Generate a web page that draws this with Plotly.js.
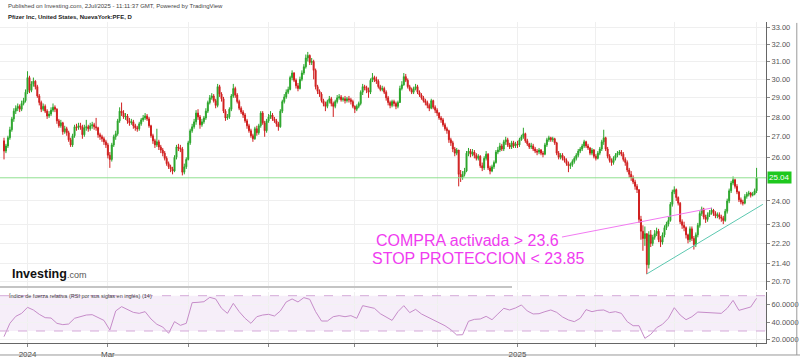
<!DOCTYPE html>
<html>
<head>
<meta charset="utf-8">
<script src="https://cdn.plot.ly/plotly-3.0.1.min.js"></script>
<style>html,body{margin:0;padding:0;background:#fff}#chart{width:800px;height:358px}</style>
</head>
<body>
<div id="chart"></div>
<script>
// ---- data (daily PFE candles, mid-Dec 2023 .. 1 Jul 2025) ----
var firstOpen = 26.80;
var closes = [
26.30,26.55,26.95,27.35,27.90,28.30,28.45,28.55,28.40,28.70,
28.85,29.30,30.10,29.40,29.75,29.90,29.60,29.10,28.75,28.40,
28.55,28.30,28.05,28.15,28.35,28.50,28.40,27.80,27.55,27.70,
27.25,27.40,27.20,26.85,26.60,27.05,27.50,27.45,27.55,27.50,
27.10,27.45,27.50,27.40,27.55,27.60,27.50,27.45,27.10,27.00,
26.90,26.75,26.60,26.10,25.90,26.60,27.00,27.15,27.80,28.30,
28.20,28.00,28.05,27.80,27.70,27.75,27.55,27.45,27.40,27.65,
27.85,27.95,28.05,27.90,27.55,27.05,26.80,26.60,26.75,26.50,
26.35,26.20,25.95,25.70,25.55,25.45,25.35,26.00,26.50,26.45,
26.40,25.30,25.55,25.90,26.70,27.30,27.50,27.75,28.20,28.00,
27.60,27.75,27.95,28.30,28.75,29.00,29.10,28.85,28.60,29.60,
29.20,28.95,28.30,27.95,28.00,28.40,29.10,29.50,29.15,28.80,
28.45,28.25,28.10,27.80,27.55,27.30,27.05,26.90,27.40,27.20,
27.55,28.20,27.70,27.30,27.80,28.00,28.10,27.90,27.80,27.65,
27.50,28.30,28.80,29.05,29.30,29.45,30.10,30.35,29.95,29.65,
29.50,30.00,30.35,30.70,31.20,31.35,30.95,31.00,30.50,29.60,
29.35,29.20,28.85,28.70,28.55,28.80,28.95,28.70,28.55,28.80,
29.00,29.05,28.90,28.95,28.85,28.95,28.90,28.80,28.55,28.40,
28.55,28.70,29.30,29.60,29.55,29.40,29.30,29.95,30.10,30.00,
29.90,29.60,29.45,29.50,29.30,29.00,28.75,28.60,28.80,28.70,
28.55,28.75,29.50,29.70,30.15,29.95,29.60,29.45,29.30,29.50,
29.60,29.30,29.15,29.00,28.85,28.75,28.60,28.45,28.85,28.50,
28.35,28.20,27.95,27.85,27.60,27.40,27.30,26.85,26.70,26.40,
26.20,26.35,25.20,25.05,25.20,25.35,26.20,26.30,26.15,26.25,
26.10,25.95,26.05,25.60,25.50,25.95,26.15,25.50,25.35,25.55,
25.75,26.25,26.35,26.55,26.40,26.75,26.85,26.60,26.50,26.70,
26.55,26.65,26.60,26.85,27.00,27.15,26.80,26.65,26.50,26.55,
26.40,26.30,26.25,26.35,26.20,26.15,26.60,26.85,26.95,26.85,
26.90,26.70,26.20,26.00,26.10,25.95,25.85,25.70,25.60,25.65,
25.80,25.95,26.10,26.30,26.40,26.55,26.75,26.55,26.45,26.20,
26.35,26.05,25.95,26.20,26.40,26.75,26.95,26.40,26.05,25.85,
25.75,25.95,26.10,26.20,26.25,26.15,25.90,25.75,25.40,25.20,
25.05,24.85,24.65,24.50,23.20,22.70,22.40,22.60,21.35,22.55,
22.20,22.45,22.60,22.70,22.35,22.25,22.55,22.85,23.00,23.15,
23.85,24.40,24.50,24.15,23.90,23.10,22.95,22.85,22.55,22.35,
22.80,22.40,22.15,22.55,22.95,23.45,23.65,23.30,23.20,23.40,
23.50,23.60,23.45,23.35,23.40,23.30,23.25,23.15,23.55,24.00,
24.45,24.80,24.95,24.65,24.40,24.05,23.95,23.90,24.20,24.30,
24.35,24.25,24.30,24.45,25.04];
var highs = [
26.95,26.65,27.05,27.50,28.00,28.45,28.60,28.70,28.65,28.85,
29.00,29.45,30.45,30.20,29.90,30.10,29.95,29.70,29.20,28.85,
28.70,28.65,28.40,28.30,28.50,28.70,28.60,28.45,27.90,27.85,
27.75,27.55,27.50,27.30,26.95,27.15,27.60,27.65,27.70,27.70,
27.60,27.60,27.85,27.60,27.70,27.75,27.70,27.95,27.50,27.20,
27.10,27.00,26.85,26.70,26.25,26.70,27.10,27.30,27.90,28.50,
28.75,28.35,28.20,28.15,27.95,27.90,27.85,27.65,27.55,27.75,
27.95,28.10,28.20,28.15,28.00,27.60,27.15,26.90,27.40,26.85,
26.60,26.45,26.30,26.05,25.80,25.65,25.55,26.10,26.60,26.65,
26.60,26.50,25.70,26.00,26.80,27.40,27.65,27.90,28.35,28.40,
28.10,27.90,28.05,28.45,28.85,29.15,29.25,29.20,28.95,29.75,
29.70,29.30,29.05,28.40,28.15,28.50,29.20,29.75,29.60,29.25,
28.90,28.55,28.35,28.20,27.90,27.65,27.40,27.15,27.50,27.55,
27.65,28.30,28.30,27.80,27.90,28.15,28.30,28.20,28.00,27.90,
27.75,28.40,28.90,29.20,29.45,29.60,30.20,30.50,30.40,30.05,
29.80,30.15,30.50,30.85,31.40,31.55,31.40,31.20,31.10,30.60,
29.70,29.45,29.30,28.95,28.80,28.90,29.10,29.05,28.80,28.90,
29.15,29.20,29.15,29.05,29.10,29.05,29.10,29.00,28.90,28.60,
28.65,28.80,29.40,29.75,29.70,29.65,29.55,30.05,30.35,30.20,
30.15,30.00,29.70,29.65,29.60,29.40,29.10,28.85,28.90,28.90,
28.80,28.85,29.65,29.90,30.35,30.30,30.05,29.70,29.55,29.60,
29.75,29.70,29.40,29.25,29.10,28.95,28.85,28.70,28.95,28.90,
28.60,28.45,28.25,28.05,27.95,27.70,27.50,27.35,26.95,26.80,
26.50,26.45,26.35,25.40,25.35,25.50,26.30,26.45,26.40,26.40,
26.35,26.20,26.15,26.10,25.75,26.05,26.30,26.20,25.60,25.65,
25.85,26.35,26.50,26.70,26.65,26.85,27.00,26.95,26.70,26.80,
26.80,26.75,26.80,26.95,27.10,27.45,27.20,26.90,26.70,26.70,
26.65,26.50,26.40,26.45,26.40,26.30,26.70,26.95,27.05,27.00,
27.00,26.95,26.75,26.30,26.20,26.20,26.05,25.95,25.80,25.75,
25.90,26.05,26.20,26.40,26.50,26.65,26.85,26.80,26.65,26.50,
26.45,26.40,26.15,26.30,26.50,26.85,27.35,27.00,26.50,26.15,
25.95,26.05,26.20,26.30,26.35,26.35,26.25,26.00,25.85,25.50,
25.35,25.15,24.95,24.75,23.90,23.35,22.95,22.90,22.30,22.70,
22.75,22.55,22.75,22.85,22.80,22.50,22.65,22.95,23.10,23.30,
23.95,24.50,24.65,24.55,24.20,23.95,23.20,23.10,22.90,22.60,
22.90,22.90,22.50,22.65,23.05,23.55,23.75,23.70,23.40,23.50,
23.60,23.70,23.65,23.55,23.50,23.50,23.40,23.35,23.65,24.10,
24.55,24.90,25.10,25.00,24.75,24.45,24.15,24.05,24.30,24.40,
24.45,24.40,24.40,24.55,25.50];
var lows = [
25.90,26.20,26.45,26.85,27.25,27.75,28.15,28.30,28.25,28.30,
28.60,28.75,29.20,29.25,29.30,29.60,29.45,29.00,28.60,28.25,
28.30,28.20,27.90,27.95,28.05,28.25,28.25,27.65,27.45,27.45,
27.10,27.15,27.05,26.75,26.50,26.50,26.95,27.30,27.35,27.35,
26.90,27.00,27.30,27.25,27.30,27.40,27.35,27.30,26.95,26.85,
26.75,26.60,26.45,25.95,25.50,25.80,26.50,26.85,27.05,27.70,
28.05,27.90,27.85,27.65,27.55,27.60,27.40,27.30,27.25,27.30,
27.55,27.75,27.85,27.80,27.45,26.95,26.65,26.45,26.50,26.35,
26.20,26.05,25.85,25.60,25.45,25.30,25.20,25.30,25.90,26.30,
26.25,25.15,25.20,25.45,25.85,26.60,27.20,27.40,27.60,27.85,
27.40,27.50,27.65,27.85,28.20,28.65,28.90,28.75,28.45,28.50,
29.05,28.80,28.20,27.80,27.85,27.90,28.30,29.00,29.00,28.70,
28.35,28.15,27.95,27.70,27.40,27.20,26.95,26.75,26.85,27.05,
27.10,27.45,27.60,27.00,27.20,27.70,27.90,27.80,27.70,27.50,
27.30,27.45,28.20,28.70,28.95,29.20,29.40,29.95,29.85,29.50,
29.35,29.45,29.90,30.25,30.60,31.00,30.80,30.80,30.00,29.45,
29.20,29.05,28.75,28.55,28.30,28.45,28.70,28.55,28.00,28.45,
28.70,28.90,28.80,28.80,28.70,28.75,28.75,28.65,28.45,28.20,
28.30,28.45,28.60,29.15,29.40,29.25,29.00,29.20,29.85,29.85,
29.75,29.50,29.35,29.35,29.20,28.85,28.60,28.45,28.50,28.55,
28.40,28.45,29.30,29.40,29.65,29.85,29.50,29.35,29.20,29.20,
29.40,29.20,29.05,28.90,28.75,28.60,28.45,28.30,28.40,28.40,
28.20,28.05,27.85,27.70,27.50,27.30,27.15,26.70,26.55,26.25,
26.05,26.10,24.65,24.85,24.95,25.10,25.30,26.05,26.00,26.05,
25.95,25.85,25.85,25.50,25.35,25.40,25.85,25.40,25.20,25.30,
25.45,25.70,26.15,26.25,26.30,26.30,26.60,26.50,26.40,26.40,
26.45,26.45,26.45,26.50,26.80,26.90,26.70,26.55,26.40,26.40,
26.30,26.20,26.10,26.15,26.10,26.00,26.10,26.50,26.75,26.75,
26.75,26.60,26.10,25.90,25.90,25.85,25.75,25.60,25.30,25.45,
25.55,25.70,25.85,26.00,26.20,26.30,26.45,26.45,26.35,26.10,
26.10,25.95,25.85,25.90,26.10,26.30,26.60,26.30,25.95,25.75,
25.60,25.65,25.85,26.00,26.10,26.05,25.80,25.60,25.30,25.05,
24.90,24.75,24.50,24.35,23.05,22.35,21.90,22.10,20.98,21.20,
22.05,22.10,22.35,22.50,22.25,22.05,22.15,22.45,22.75,22.90,
23.10,23.75,24.30,24.00,23.80,23.00,22.80,22.70,22.40,22.20,
22.25,22.30,21.95,22.05,22.45,22.85,23.35,23.20,23.05,23.10,
23.30,23.40,23.35,23.25,23.25,23.20,23.10,23.00,23.10,23.45,
23.90,24.35,24.70,24.55,24.30,23.95,23.85,23.80,23.85,24.10,
24.20,24.15,24.20,24.25,24.35];
var opens = [firstOpen].concat(closes.slice(0, -1));   // open taken as previous close
var idx = closes.map(function (_, i) { return i; });

var rsiStep = 3;
var rsi = [
23.6,38.7,46.6,50.0,56.8,53.8,48.9,45.1,44.7,38.7,
37.2,37.9,44.4,46.2,48.1,48.5,45.1,42.0,31.1,52.7,
57.6,54.5,51.1,50.0,51.9,43.6,37.6,34.5,27.4,40.6,
36.4,38.7,62.1,62.5,63.2,68.1,66.3,55.7,50.0,61.3,
51.9,44.4,38.7,46.2,48.1,48.9,47.0,52.7,62.9,66.3,
62.9,67.8,65.9,51.9,41.3,41.3,46.2,47.4,46.2,47.4,
44.4,58.7,57.6,55.7,49.6,46.2,42.0,51.9,58.7,50.8,
54.5,49.3,45.9,42.5,39.1,36.0,31.5,25.5,25.8,41.0,
43.2,43.6,46.6,42.8,49.3,55.7,53.8,56.1,59.5,52.7,
49.3,49.6,51.9,53.8,51.1,45.9,42.5,40.6,44.4,54.2,
51.9,53.4,53.8,50.8,51.9,50.0,40.6,36.0,36.0,21.7,
26.2,33.8,37.6,44.4,56.4,48.1,42.8,46.2,51.5,51.1,
50.8,50.4,50.0,55.7,64.7,53.4,54.9,57.2,67.0];
var rsiX = rsi.map(function (_, k) { return k * rsiStep; });

// axis ticks
var priceTicks = [20.70, 21.40, 22.20, 23, 24, 26, 27, 28, 29, 30, 31, 32, 33];
var timeTickIdx = [12, 53, 94, 135, 179, 221, 262, 302, 342, 384];
var timeTickText = ['2024', 'Mar', '', '', '', '', '2025', '', '', ''];
var rsiTicks = [20, 40, 60];
var rsiBand = [30, 70];

// drawn trend lines (candle index, price)
var buyLineX = [284.7, 361.2], buyLineY = [22.46, 23.69];
var stopLineX = [328, 387.2], stopLineY = [20.99, 23.85];
var lastPrice = 25.04;

var GREEN = '#2ba52b', RED = '#d01f1f';
var FONT = 'Liberation Sans, Arial, sans-serif';
var XR = [-2.04, 388.8];
var XD = 0.9575;

var traces = [
  {
    type: 'candlestick', x: idx, open: opens, high: highs, low: lows, close: closes,
    xaxis: 'x', yaxis: 'y',
    increasing: {line: {color: GREEN, width: 1}, fillcolor: GREEN},
    decreasing: {line: {color: RED, width: 1}, fillcolor: RED},
    whiskerwidth: 0, hoverinfo: 'skip', showlegend: false
  },
  {
    type: 'scatter', mode: 'lines', x: rsiX, y: rsi, xaxis: 'x', yaxis: 'y2',
    line: {color: '#c68cc9', width: 1}, hoverinfo: 'skip', showlegend: false
  }
];

var shapes = [
  // RSI band
  {type: 'rect', xref: 'x', yref: 'y2', x0: XR[0], x1: XR[1], y0: rsiBand[0], y1: rsiBand[1],
   fillcolor: 'rgba(200,150,215,0.16)', line: {width: 0}, layer: 'below'},
  {type: 'line', xref: 'x', yref: 'y2', x0: XR[0], x1: XR[1], y0: rsiBand[1], y1: rsiBand[1],
   line: {color: '#d4a8d8', width: 1, dash: 'dash'}},
  {type: 'line', xref: 'x', yref: 'y2', x0: XR[0], x1: XR[1], y0: rsiBand[0], y1: rsiBand[0],
   line: {color: '#d4a8d8', width: 1, dash: 'dash'}},
  // last price line
  {type: 'line', xref: 'x', yref: 'y', x0: XR[0], x1: XR[1], y0: lastPrice, y1: lastPrice,
   line: {color: '#8fe08f', width: 1}},
  // trend lines
  {type: 'line', xref: 'x', yref: 'y', x0: buyLineX[0], x1: buyLineX[1], y0: buyLineY[0], y1: buyLineY[1],
   line: {color: '#f27af2', width: 1}},
  {type: 'line', xref: 'x', yref: 'y', x0: stopLineX[0], x1: stopLineX[1], y0: stopLineY[0], y1: stopLineY[1],
   line: {color: '#5cc8b0', width: 1}},
  // pane separator stub, borders
  {type: 'line', xref: 'paper', yref: 'paper', x0: 0, x1: 0.64, y0: 0.1983, y1: 0.1983,
   line: {color: '#c4c4c4', width: 2}},
  {type: 'line', xref: 'paper', yref: 'paper', x0: 0, x1: 1, y0: 0.0084, y1: 0.0084,
   line: {color: '#999', width: 1}},
  {type: 'line', xref: 'paper', yref: 'paper', x0: 0.996, x1: 0.996, y0: 0.0084, y1: 0.936,
   line: {color: '#999', width: 1}}
];

var annotations = [
  {xref: 'paper', yref: 'paper', x: 0.007, y: 0.983, xanchor: 'left', yanchor: 'middle', showarrow: false,
   text: 'Published on Investing.com, 2Jul/2025 - 11:11:37 GMT, Powered by TradingView',
   font: {family: FONT, size: 6, color: '#444'}},
  {xref: 'paper', yref: 'paper', x: 0.007, y: 0.9525, xanchor: 'left', yanchor: 'middle', showarrow: false,
   text: '<b>Pfizer Inc, United States, NuevaYork:PFE, D</b>',
   font: {family: FONT, size: 6, color: '#222'}},
  {xref: 'paper', yref: 'paper', x: 0.0125, y: 0.2346, xanchor: 'left', yanchor: 'middle', showarrow: false,
   text: '<b>Investing</b><span style="font-size:9px;color:#555">.com</span>',
   font: {family: FONT, size: 12.5, color: '#111'}},
  {xref: 'paper', yref: 'paper', x: 0.009, y: 0.1735, xanchor: 'left', yanchor: 'middle', showarrow: false,
   text: 'Índice de fuerza relativa (RSI por sus siglas en inglés) (14)',
   font: {family: FONT, size: 5.5, color: '#444'}},
  {xref: 'paper', yref: 'paper', x: 0.4675, y: 0.3296, xanchor: 'left', yanchor: 'middle', showarrow: false,
   text: 'COMPRA activada &gt; 23.6', font: {family: FONT, size: 16, color: '#f03cf0'}},
  {xref: 'paper', yref: 'paper', x: 0.4625, y: 0.2793, xanchor: 'left', yanchor: 'middle', showarrow: false,
   text: 'STOP PROTECCION &lt; 23.85', font: {family: FONT, size: 16, color: '#f03cf0'}},
  {xref: 'paper', yref: 'y', x: XD + 0.001, y: Math.log10(lastPrice), xanchor: 'left', yanchor: 'middle',
   showarrow: false, text: lastPrice.toFixed(2), bgcolor: '#1ec81e', borderpad: 1,
   font: {family: FONT, size: 8, color: '#fff'}}
];

var layout = {
  width: 800, height: 358,
  margin: {l: 0, r: 0, t: 0, b: 0, pad: 0},
  paper_bgcolor: '#fff', plot_bgcolor: '#fff',
  showlegend: false,
  font: {family: FONT, size: 8, color: '#555'},
  xaxis: {
    domain: [0, XD], range: XR, anchor: 'y2', type: 'linear',
    tickmode: 'array', tickvals: timeTickIdx, ticktext: timeTickText,
    ticks: 'outside', ticklen: 3, tickcolor: '#888',
    showline: true, linecolor: '#666', linewidth: 1,
    showgrid: true, gridcolor: '#efefef', zeroline: false,
    tickfont: {family: FONT, size: 8, color: '#444'},
    rangeslider: {visible: false}, fixedrange: true
  },
  yaxis: {
    domain: [0.19, 0.9385], type: 'log', range: [Math.log10(20.38), Math.log10(33.33)],
    side: 'right', anchor: 'x',
    tickmode: 'array', tickvals: priceTicks, ticktext: priceTicks.map(function (v) { return v.toFixed(2); }),
    ticks: 'outside', ticklen: 3, tickcolor: '#888',
    showline: true, linecolor: '#666', linewidth: 1,
    showgrid: true, gridcolor: '#efefef', zeroline: false,
    tickfont: {family: FONT, size: 7.5, color: '#555'}, fixedrange: true
  },
  yaxis2: {
    domain: [0.0419, 0.1844], range: [16.4, 74.2], side: 'right', anchor: 'x',
    tickmode: 'array', tickvals: rsiTicks, ticktext: rsiTicks.map(function (v) { return v.toFixed(4); }),
    ticks: 'outside', ticklen: 3, tickcolor: '#888',
    showline: true, linecolor: '#666', linewidth: 1,
    showgrid: true, gridcolor: '#f2f2f2', zeroline: false,
    tickfont: {family: FONT, size: 7.5, color: '#555'}, fixedrange: true
  },
  shapes: shapes,
  annotations: annotations
};

Plotly.newPlot('chart', traces, layout, {staticPlot: true, displayModeBar: false});
</script>
</body>
</html>
